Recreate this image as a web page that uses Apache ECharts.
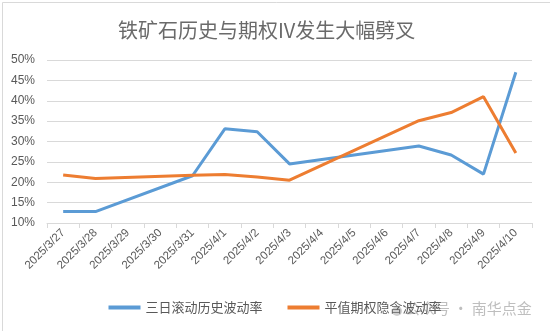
<!DOCTYPE html>
<html>
<head>
<meta charset="utf-8">
<script src="https://cdn.jsdelivr.net/npm/echarts@6/dist/echarts.min.js"></script>
<style>
html,body{margin:0;padding:0;background:#fff;}
#chart{width:550px;height:331px;}
</style>
</head>
<body>
<div id="chart"></div>
<script>
// Trading days have values; weekends and the Qingming holiday are null.
const dates = ['2025/3/27','2025/3/28','2025/3/29','2025/3/30','2025/3/31','2025/4/1','2025/4/2','2025/4/3','2025/4/4','2025/4/5','2025/4/6','2025/4/7','2025/4/8','2025/4/9','2025/4/10'];
const histVol = [12.8, 12.8, null, null, 21.6, 33.1, 32.4, 24.5, null, null, null, 28.9, 26.7, 22.0, 47.0];
const impliedVol = [21.8, 20.9, null, null, 21.7, 21.9, 21.3, 20.5, null, null, null, 35.1, 37.1, 41.0, 27.2];
const seriesNames = ['三日滚动历史波动率', '平值期权隐含波动率'];
const titleText = '铁矿石历史与期权IV发生大幅劈叉';
const markText = '公众号 · 南华点金';

const font = '"Noto Sans CJK SC", "Liberation Sans", sans-serif';
const chart = echarts.init(document.getElementById('chart'), null, {renderer: 'canvas'});
chart.setOption({
  backgroundColor: '#fff',
  animation: false,
  textStyle: {fontFamily: font},
  title: {
    text: titleText,
    left: 113, top: 15,
    textStyle: {fontSize: 20, fontWeight: 'normal', color: '#6a6a6a', fontFamily: font}
  },
  grid: {left: 47, right: 18, top: 60, bottom: 108, containLabel: false},
  legend: {
    bottom: 12, left: 'center',
    icon: 'rect', itemWidth: 32, itemHeight: 4, itemGap: 25,
    textStyle: {fontSize: 13, color: '#595959', fontFamily: font},
    data: seriesNames
  },
  xAxis: {
    type: 'category',
    data: dates,
    boundaryGap: true,
    axisLine: {lineStyle: {color: '#d9d9d9'}},
    axisTick: {show: true, length: 5, lineStyle: {color: '#d9d9d9'}},
    axisLabel: {rotate: 45, interval: 0, fontSize: 11.5, color: '#595959', margin: 8, fontFamily: '"Liberation Sans", sans-serif'}
  },
  yAxis: {
    type: 'value',
    min: 10, max: 50, interval: 5,
    axisLine: {show: false},
    axisTick: {show: false},
    splitLine: {lineStyle: {color: '#d9d9d9', width: 1}},
    axisLabel: {formatter: '{value}%', fontSize: 12, color: '#595959', margin: 12, fontFamily: '"Liberation Sans", sans-serif'}
  },
  series: [
    {name: seriesNames[0], type: 'line', data: histVol, connectNulls: true, showSymbol: false, symbol: 'none',
     lineStyle: {color: '#5B9BD5', width: 3}, itemStyle: {color: '#5B9BD5'}},
    {name: seriesNames[1], type: 'line', data: impliedVol, connectNulls: true, showSymbol: false, symbol: 'none',
     lineStyle: {color: '#ED7D31', width: 3}, itemStyle: {color: '#ED7D31'}}
  ],
  graphic: [
    {type: 'rect', left: 0, top: 0, z: 100, silent: true,
     shape: {x: 0.5, y: 0.5, width: 549, height: 330},
     style: {fill: 'none', stroke: '#d9d9d9', lineWidth: 1}},
    {type: 'circle', z: 100, silent: true, shape: {cx: 397, cy: 311, r: 5},
     style: {fill: 'rgba(120,120,120,0.35)'}},
    {type: 'text', z: 100, silent: true, left: 405, top: 301,
     style: {text: markText, fontSize: 15, fill: 'rgba(110,110,110,0.45)', fontFamily: font}}
  ]
});
</script>
</body>
</html>
